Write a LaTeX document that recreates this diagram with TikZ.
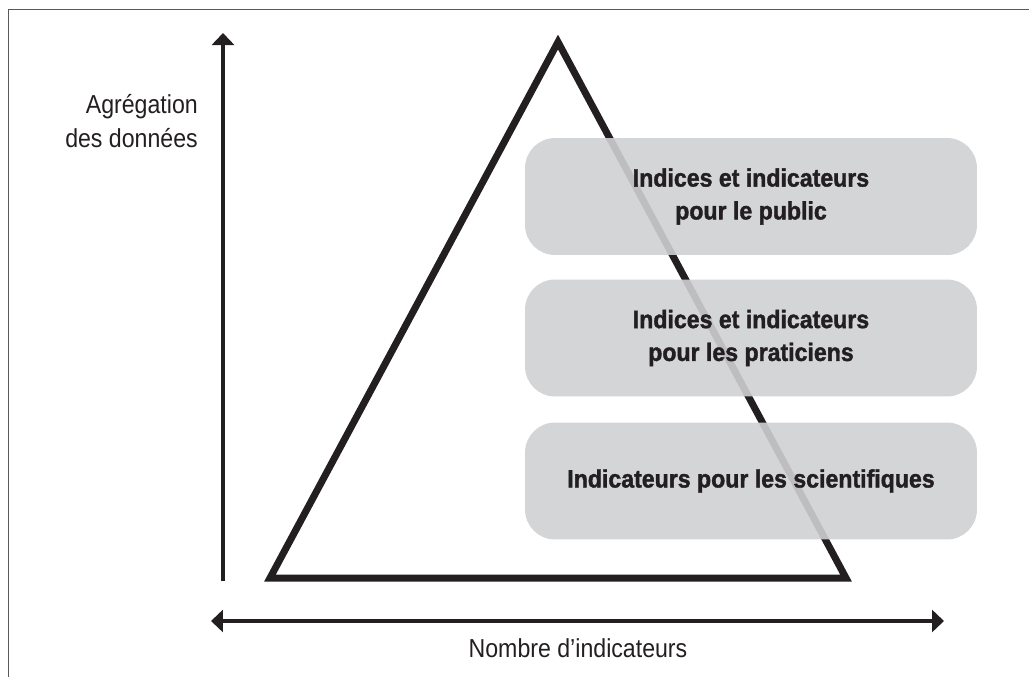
\documentclass[tikz,border=0pt]{standalone}
\usepackage{fontspec}
\setmainfont{Liberation Sans}[FakeStretch=0.89, BoldFeatures={FakeStretch=0.92, FakeBold=1.5}]
\usetikzlibrary{arrows.meta}
\definecolor{encre}{RGB}{35,31,32}
\definecolor{fondgris}{RGB}{207,208,211}
\tikzset{
  boite/.style={rounded corners=0.6cm, fill=fondgris, fill opacity=0.9, text opacity=1,
    minimum width=9.04cm, minimum height=2.34cm, align=center, text=encre,
    font=\bfseries\fontsize{14.3}{18.7}\selectfont},
  legende/.style={text=encre, font=\fontsize{14.8}{19}\selectfont},
  axe/.style={line width=1.8pt, draw=encre},
  pointe/.tip={Triangle[length=0.24cm,width=0.44cm]}
}
\begin{document}
\begin{tikzpicture}[x=0.02cm,y=-0.02cm]
\useasboundingbox (0,0) rectangle (1029,677);
\draw [line width=1pt, draw=gray!70!black] (8.5,677) -- (8.5,9.5) -- (1029,9.5);
% axes
\coordinate (bas) at (223,581);
\coordinate (haut) at (223,33);
\coordinate (gauche axe) at (211,621);
\coordinate (droite axe) at (944,621);
\draw [axe, -pointe] (bas) -- (haut);
\draw [axe, pointe-pointe] (gauche axe) -- (droite axe);
\node [legende, align=right, anchor=east] (agregation) at (204,121) {Agrégation\\des données};
\node [legende, anchor=base] (nombre) at (578,657) {Nombre d’indicateurs};
% pyramide
\coordinate (sommet) at (558,42);
\coordinate (gauche) at (270,578);
\coordinate (droite) at (846,578);
\draw [line width=0.14cm, draw=encre, line join=miter] (sommet) -- (droite) -- (gauche) -- cycle;
% niveaux
\node [boite] (public) at (751,196.5) {Indices et indicateurs\\pour le public};
\node [boite] (praticiens) at (751,338) {Indices et indicateurs\\pour les praticiens};
\node [boite] (scientifiques) at (751,481) {Indicateurs pour les scientifiques};
\end{tikzpicture}
\end{document}
